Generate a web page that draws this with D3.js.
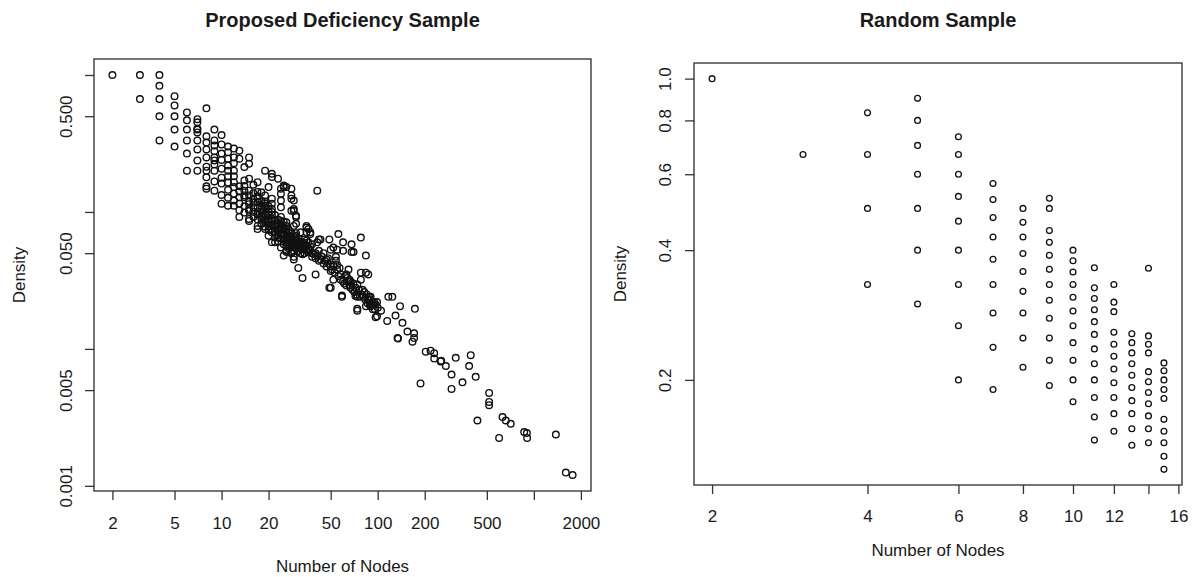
<!DOCTYPE html>
<html><head><meta charset="utf-8">
<script src="https://cdn.jsdelivr.net/npm/d3@7"></script>
<style>
body{margin:0;background:#fff;}
text{font-family:"Liberation Sans",Arial,sans-serif;fill:#1a1a1a;}
</style></head><body>
<svg id="c" width="1192" height="577"></svg>
<script>
// ---------- data ----------
const panelTitles = ["Proposed Deficiency Sample", "Random Sample"];
const xAxisTitle = "Number of Nodes";
const yAxisTitle = "Density";

// Left panel: [number of nodes, density]
const pdsPoints = [
[2,1.0],[3,1.0],[3,0.667],[4,1.0],[4,0.833],[4,0.667],[4,0.5],[4,0.333],
[5,0.7],[5,0.6],[5,0.5],[5,0.4],[5,0.3],
[6,0.533],[6,0.467],[6,0.4],[6,0.333],[6,0.267],[6,0.2],
[7,0.476],[7,0.452],[7,0.405],[7,0.381],[7,0.333],[7,0.286],[7,0.238],[7,0.2],[7,0.4],
[8,0.571],[8,0.357],[8,0.286],[8,0.25],[8,0.2],[8,0.148],[8,0.321],[8,0.214],[8,0.179],[8,0.154],
[9,0.4],[9,0.278],[9,0.25],[9,0.238],[9,0.2],[9,0.143],[9,0.333],[9,0.306],[9,0.222],[9,0.167],
[10,0.364],[10,0.24],[10,0.207],[10,0.161],[10,0.115],[10,0.311],[10,0.267],[10,0.178],[10,0.133],
[11,0.3],[11,0.245],[11,0.111],[11,0.273],[11,0.218],[11,0.2],[11,0.182],[11,0.164],[11,0.145],[11,0.127],
[12,0.29],[12,0.25],[12,0.2],[12,0.165],[12,0.111],[12,0.227],[12,0.182],[12,0.152],[12,0.136],[12,0.121],
[13,0.28],[13,0.245],[13,0.092],[13,0.154],[13,0.141],[13,0.128],[13,0.115],[13,0.103],
[14,0.213],[14,0.17],[14,0.128],[14,0.143],[14,0.132],[14,0.11],[14,0.099],[14,0.155],
[15,0.25],[15,0.225],[15,0.175],[15,0.132],[15,0.102],[15,0.089],[15,0.086],[15,0.143],[15,0.114],[15,0.105],[15,0.12],
[16,0.158],[16,0.125],[16,0.117],[16,0.1],[16,0.092],[16,0.137],[16,0.108],
[17,0.165],[17,0.14],[17,0.108],[17,0.079],[17,0.075],[17,0.125],[17,0.118],[17,0.096],[17,0.088],[17,0.13],[17,0.1],
[18,0.139],[18,0.111],[18,0.1],[18,0.093],[18,0.082],[18,0.12],[18,0.105],[18,0.088],
[19,0.2],[19,0.132],[19,0.111],[19,0.084],[19,0.119],[19,0.097],[19,0.075],[19,0.105],[19,0.094],[19,0.088],[19,0.078],[19,0.115],
[20,0.152],[20,0.067],[20,0.089],[20,0.1],[20,0.095],[20,0.084],[20,0.074],[20,0.11],[20,0.105],[20,0.079],
[21,0.19],[21,0.18],[21,0.125],[21,0.105],[21,0.089],[21,0.06],[21,0.115],[21,0.075],[21,0.095],[21,0.081],[21,0.071],[21,0.1],[21,0.085],
[22,0.06],[22,0.087],[22,0.078],[22,0.072],[22,0.065],[22,0.095],[22,0.082],[22,0.069],
[23,0.175],[23,0.073],[23,0.061],[23,0.083],[23,0.079],[23,0.068],[23,0.088],[23,0.075],[23,0.065],
[24,0.148],[24,0.136],[24,0.108],[24,0.086],[24,0.055],[24,0.121],[24,0.092],[24,0.077],[24,0.075],[24,0.07],[24,0.064],[24,0.081],[24,0.068],
[25,0.156],[25,0.152],[25,0.069],[25,0.048],[25,0.058],[25,0.08],[25,0.075],[25,0.063],[25,0.085],[25,0.07],[25,0.066],
[26,0.152],[26,0.079],[26,0.052],[26,0.084],[26,0.051],[26,0.072],[26,0.066],[26,0.06],[26,0.075],[26,0.064],[26,0.056],
[27,0.074],[27,0.065],[27,0.058],[27,0.07],[27,0.062],[27,0.054],
[28,0.148],[28,0.132],[28,0.125],[28,0.102],[28,0.063],[28,0.051],[28,0.05],[28,0.07],[28,0.061],[28,0.056],[28,0.066],[28,0.059],
[29,0.121],[29,0.105],[29,0.047],[29,0.102],[29,0.079],[29,0.045],[29,0.066],[29,0.06],[29,0.055],[29,0.063],[29,0.052],
[30,0.092],[30,0.082],[30,0.067],[30,0.058],[30,0.094],[30,0.063],[30,0.07],[30,0.06],[30,0.055],
[31,0.039],[31,0.064],[31,0.058],[31,0.052],[31,0.061],[31,0.055],
[32,0.071],[32,0.06],[32,0.054],[32,0.057],[32,0.05],
[33,0.049],[33,0.033],[33,0.057],[33,0.06],[33,0.054],
[34,0.053],[34,0.063],[34,0.058],[34,0.056],[34,0.05],
[35,0.079],[35,0.071],[35,0.057],[35,0.077],[35,0.062],[35,0.052],
[36,0.06],[36,0.075],[36,0.054],[36,0.051],
[37,0.069],[37,0.071],[37,0.056],[37,0.053],
[38,0.05],[38,0.058],[38,0.047],[39,0.049],
[40,0.035],[40,0.05],[40,0.046],[41,0.06],[41,0.143],[41,0.048],
[42,0.063],[42,0.052],[42,0.044],[43,0.045],[43,0.063],
[44,0.047],[45,0.05],[45,0.042],[46,0.044],[47,0.045],[47,0.04],[48,0.042],[48,0.046],
[49,0.063],[49,0.028],[50,0.053],[50,0.028],[50,0.04],[50,0.037],
[51,0.038],[52,0.055],[52,0.032],[52,0.041],[53,0.036],[54,0.044],[54,0.047],
[55,0.038],[55,0.053],[55,0.041],[56,0.069],[56,0.034],[57,0.039],[58,0.035],[58,0.032],
[59,0.024],[59,0.0245],[60,0.06],[60,0.052],[60,0.031],[61,0.03],
[62,0.034],[63,0.035],[63,0.029],[64,0.033],[65,0.031],[65,0.038],[66,0.032],[66,0.029],
[67,0.028],[67,0.031],[68,0.058],[68,0.051],[69,0.027],[70,0.051],[70,0.03],[71,0.026],
[72,0.028],[72,0.0243],[73,0.025],[74,0.0295],[74,0.024],[74,0.019],[74,0.0196],[76,0.027],[77,0.024],
[78,0.065],[78,0.032],[78,0.036],[79,0.025],[80,0.027],[81,0.024],[82,0.026],[83,0.023],
[84,0.048],[84,0.036],[84,0.0205],[85,0.025],[86,0.023],[86,0.0215],[87,0.035],[88,0.024],[88,0.0229],[89,0.021],
[90,0.0205],[90,0.024],[91,0.021],[92,0.022],[93,0.0195],[94,0.021],[95,0.022],[96,0.0195],[97,0.017],[97,0.0211],
[99,0.022],[99,0.0173],[100,0.02],[105,0.019],
[115,0.016],[117,0.024],[124,0.024],[130,0.0175],[134,0.012],[135,0.0119],[139,0.0205],[144,0.0155],[155,0.0134],
[167,0.0113],[171,0.013],[171,0.012],[173,0.0196],[188,0.0056],
[203,0.00955],[218,0.0097],[230,0.0093],[230,0.0085],[253,0.0081],[255,0.0082],[273,0.0075],
[297,0.0065],[297,0.0051],[316,0.0086],[349,0.0057],[385,0.0075],[394,0.009],[424,0.00625],[435,0.003],
[517,0.00477],[517,0.0041],[517,0.00388],[599,0.00224],[630,0.00318],[661,0.003],[711,0.00284],
[867,0.00247],[902,0.00243],[905,0.00224],[1383,0.00237],[1602,0.00125],[1770,0.0012]
];

// Right panel: [number of nodes, density]
const rsPoints = [
[2,1.0],[3,0.667],
[4,0.833],[4,0.667],[4,0.5],[4,0.333],
[5,0.9],[5,0.8],[5,0.7],[5,0.6],[5,0.5],[5,0.4],[5,0.3],
[6,0.733],[6,0.667],[6,0.6],[6,0.533],[6,0.467],[6,0.4],[6,0.333],[6,0.267],[6,0.2],
[7,0.571],[7,0.524],[7,0.476],[7,0.429],[7,0.381],[7,0.333],[7,0.286],[7,0.238],[7,0.19],
[8,0.5],[8,0.464],[8,0.429],[8,0.393],[8,0.357],[8,0.321],[8,0.286],[8,0.25],[8,0.214],
[9,0.528],[9,0.5],[9,0.444],[9,0.417],[9,0.389],[9,0.361],[9,0.333],[9,0.306],[9,0.278],[9,0.25],[9,0.222],[9,0.194],
[10,0.4],[10,0.378],[10,0.356],[10,0.333],[10,0.311],[10,0.289],[10,0.267],[10,0.244],[10,0.222],[10,0.2],[10,0.178],
[11,0.364],[11,0.327],[11,0.309],[11,0.291],[11,0.273],[11,0.255],[11,0.236],[11,0.218],[11,0.2],[11,0.182],[11,0.164],[11,0.145],
[12,0.333],[12,0.303],[12,0.288],[12,0.258],[12,0.242],[12,0.227],[12,0.212],[12,0.197],[12,0.182],[12,0.167],[12,0.152],
[13,0.256],[13,0.244],[13,0.231],[13,0.218],[13,0.205],[13,0.192],[13,0.179],[13,0.167],[13,0.154],[13,0.141],
[14,0.363],[14,0.253],[14,0.242],[14,0.231],[14,0.209],[14,0.198],[14,0.187],[14,0.176],[14,0.165],[14,0.154],[14,0.143],
[15,0.219],[15,0.21],[15,0.2],[15,0.19],[15,0.181],[15,0.162],[15,0.152],[15,0.143],[15,0.133],[15,0.124]
];

// Tick values and labels (empty label = tick drawn, label dropped)
const pdsXTicks = [2,5,10,20,50,100,200,500,1000,2000];
const pdsXLabels = ["2","5","10","20","50","100","200","500","","2000"];
const pdsYTicks = [0.001,0.005,0.01,0.05,0.1,0.5,1];
const pdsYLabels = ["0.001","0.005","","0.050","","0.500",""];
const rsXTicks = [2,4,6,8,10,12,14,16];
const rsXLabels = ["2","4","6","8","10","12","","16"];
const rsYTicks = [0.2,0.4,0.6,0.8,1.0];
const rsYLabels = ["0.2","0.4","0.6","0.8","1.0"];

// ---------- drawing ----------
const svg = d3.select("#c");
function padLog(ext){
  const a=Math.log10(ext[0]), b=Math.log10(ext[1]), p=(b-a)*0.04;
  return [Math.pow(10,a-p), Math.pow(10,b+p)];
}
function panel(cfg){
  const x = d3.scaleLog().domain(padLog(d3.extent(cfg.pts,d=>d[0]))).range([cfg.l,cfg.r]);
  const y = d3.scaleLog().domain(padLog(d3.extent(cfg.pts,d=>d[1]))).range([cfg.b,cfg.t]);
  const g = svg.append("g");
  const xa = g.append("g").attr("transform",`translate(0,${cfg.b})`)
    .call(d3.axisBottom(x).tickValues(cfg.xt).tickFormat((d,i)=>cfg.xl[i])
      .tickSize(9).tickSizeOuter(0).tickPadding(cfg.xpad));
  xa.select(".domain").remove();
  xa.selectAll(".tick line").attr("stroke","#333").attr("stroke-width",1.3);
  xa.selectAll(".tick text").attr("font-size",17).attr("fill","#1a1a1a")
    .style("font-family",'"Liberation Sans",Arial,sans-serif');
  const ya = g.append("g").attr("transform",`translate(${cfg.l},0)`)
    .call(d3.axisLeft(y).tickValues(cfg.yt).tickFormat((d,i)=>cfg.yl[i])
      .tickSize(9).tickSizeOuter(0));
  ya.select(".domain").remove();
  ya.selectAll(".tick line").attr("stroke","#333").attr("stroke-width",1.3);
  ya.selectAll(".tick text").attr("font-size",17).attr("fill","#1a1a1a")
    .style("font-family",'"Liberation Sans",Arial,sans-serif')
    .attr("x",null).attr("dy",null).attr("text-anchor","middle")
    .attr("transform",`translate(${cfg.ylx},0) rotate(-90)`);
  g.append("g").selectAll("circle").data(cfg.pts).join("circle")
    .attr("cx",d=>x(d[0])).attr("cy",d=>y(d[1])).attr("r",cfg.rad)
    .attr("fill","none").attr("stroke","#111").attr("stroke-width",cfg.sw);
  g.append("rect").attr("x",cfg.l).attr("y",cfg.t).attr("width",cfg.r-cfg.l).attr("height",cfg.b-cfg.t)
    .attr("fill","none").attr("stroke","#3a3a3a").attr("stroke-width",1.4);
  const cx=(cfg.l+cfg.r)/2, cy=(cfg.t+cfg.b)/2;
  g.append("text").attr("x",cx).attr("y",27).attr("text-anchor","middle")
    .attr("font-size",20).attr("font-weight","bold").text(cfg.title);
  g.append("text").attr("x",cx).attr("y",cfg.xty).attr("text-anchor","middle")
    .attr("font-size",17).text(xAxisTitle);
  g.append("text").attr("transform",`translate(${cfg.ytx},${cy}) rotate(-90)`)
    .attr("text-anchor","middle").attr("font-size",17).text(yAxisTitle);
}
panel({pts:pdsPoints,l:94,r:591,t:59,b:491,xt:pdsXTicks,xl:pdsXLabels,yt:pdsYTicks,yl:pdsYLabels,
  xpad:17,ylx:-22,rad:3.3,sw:1.4,title:panelTitles[0],xty:572,ytx:25});
panel({pts:rsPoints,l:694,r:1182,t:63,b:485,xt:rsXTicks,xl:rsXLabels,yt:rsYTicks,yl:rsYLabels,
  xpad:16,ylx:-23,rad:2.9,sw:1.3,title:panelTitles[1],xty:556,ytx:626});
</script>
</body></html>
